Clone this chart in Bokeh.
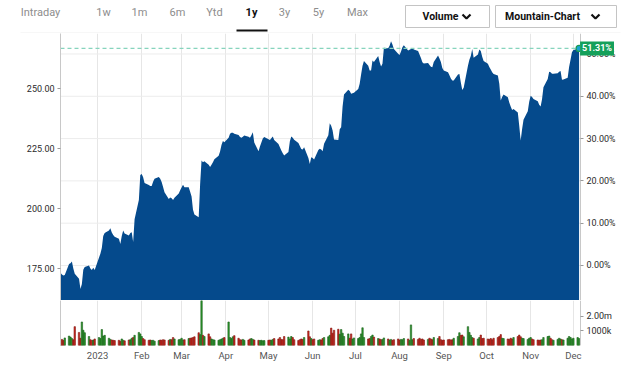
import pandas as pd
from bokeh.plotting import figure
from bokeh.layouts import column
from bokeh.models import (Range1d, LinearAxis, FixedTicker, PrintfTickFormatter,
                          Label, Grid, ColumnDataSource)
from bokeh.embed import file_html
from bokeh.resources import INLINE
from bokeh.core.properties import value

# ---------------- data ----------------
price = [
    173.2, 172.5, 172.1, 172.3, 176.9, 177.2, 177.9, 175.0, 172.8, 170.7,
    166.5, 168.5, 174.5, 175.6, 176.3, 175.0, 174.4, 175.3, 174.4, 179.5,
    181.2, 183.5, 188.5, 189.8, 190.8, 191.8, 190.0, 189.0, 188.2, 187.4,
    185.2, 188.5, 190.8, 189.6, 188.8, 189.8, 190.1, 186.0, 195.5, 203.5,
    214.0, 214.4, 213.0, 210.6, 209.8, 209.4, 209.4, 211.2, 212.4, 213.1,
    212.4, 211.0, 209.0, 206.8, 204.0, 204.6, 204.3, 203.5, 204.5, 206.3,
    207.6, 208.8, 209.9, 208.9, 208.9, 207.0, 205.0, 199.5, 197.5, 196.4,
    210.0, 220.0, 219.3, 219.7, 218.2, 217.3, 218.2, 219.3, 220.5, 222.0,
    223.8, 226.5, 228.1, 227.6, 229.5, 231.1, 231.6, 231.6, 231.1, 230.6,
    229.8, 229.5, 229.9, 230.4, 229.9, 229.5, 230.5, 231.8, 227.5, 223.9,
    225.8, 227.5, 229.2, 229.8, 228.9, 228.5, 229.3, 230.0, 228.5, 226.9,
    225.5, 224.2, 223.0, 222.1, 223.5, 228.0, 230.0, 229.5, 228.6, 227.3,
    226.0, 224.8, 224.6, 225.5, 221.0, 218.5, 221.4, 221.0, 220.4, 224.4,
    224.9, 224.6, 223.9, 227.0, 230.5, 235.5, 234.5, 232.5, 228.8, 228.5,
    233.0, 233.9, 242.5, 247.5, 249.5, 249.0, 247.8, 248.0, 248.2, 249.8,
    252.0, 255.8, 259.5, 261.5, 259.5, 257.5, 257.5, 261.7, 261.0, 263.5,
    261.0, 259.2, 260.3, 267.0, 266.8, 267.8, 269.7, 268.3, 266.5, 264.5,
    264.0, 265.4, 267.2, 268.0, 265.8, 266.2, 266.5, 266.9, 266.3, 265.6,
    264.2, 262.7, 260.9, 260.4, 260.6, 259.8, 259.1, 258.9, 261.0, 263.8,
    262.5, 261.0, 258.5, 257.5, 256.8, 255.5, 254.2, 253.3, 253.3, 255.8,
    256.0, 252.5, 249.4, 250.3, 259.5, 262.0, 263.5, 266.5, 262.8, 264.2,
    266.3, 265.6, 263.2, 261.5, 260.3, 259.0, 257.9, 256.8, 256.0, 255.4,
    252.0, 245.0, 246.5, 247.5, 246.4, 244.2, 242.5, 241.0, 241.5, 240.0,
    234.5, 228.3, 233.0, 237.0, 240.5, 244.5, 247.0, 246.5, 245.6, 244.7,
    243.2, 242.5, 245.5, 250.5, 254.0, 257.0, 256.8, 256.1, 256.2, 256.4,
    257.0, 257.3, 253.6, 253.8, 254.5, 259.0, 262.0, 265.1, 266.0, 266.5,
    266.7,
]
volume_m = [
    0.38, 0.42, 0.36, 0.52, 0.65, 0.58, 0.48, 0.40, 1.30, 0.90,
    0.50, 1.62, 1.05, 0.88, 0.62, 0.40, 0.35, 0.38, 0.45, 0.55,
    0.48, 1.10, 0.65, 0.70, 0.50, 0.42, 0.38, 0.36, 0.34, 0.36,
    0.30, 0.45, 0.36, 0.32, 0.38, 0.40, 0.50, 0.55, 0.70, 0.90,
    0.80, 0.62, 0.48, 0.40, 0.36, 0.38, 0.35, 0.36, 0.30, 0.34,
    0.38, 0.36, 0.40, 0.38, 0.36, 0.42, 0.40, 0.55, 0.45, 0.40,
    0.42, 0.50, 0.38, 0.40, 0.48, 0.50, 0.52, 0.55, 0.60, 0.88,
    0.75, 3.10, 0.70, 0.62, 0.80, 0.60, 0.45, 0.40, 0.38, 0.36,
    0.40, 0.45, 0.50, 0.55, 1.62, 0.55, 0.48, 0.60, 0.68, 0.50,
    0.40, 0.38, 0.42, 0.36, 0.38, 0.45, 0.48, 0.42, 0.38, 0.36,
    0.34, 0.36, 0.32, 0.34, 0.36, 0.38, 0.36, 0.42, 0.48, 0.45,
    0.55, 0.42, 0.40, 0.62, 0.58, 0.45, 0.62, 0.55, 0.40, 0.35,
    0.40, 0.45, 0.42, 0.55, 1.00, 0.60, 0.48, 0.40, 0.45, 0.36,
    0.40, 0.38, 0.48, 0.55, 0.60, 0.70, 1.20, 0.85, 1.05, 1.12,
    0.78, 1.10, 0.85, 0.62, 0.80, 0.50, 0.80, 0.45, 0.52, 0.48,
    0.55, 0.80, 1.22, 0.55, 0.45, 0.48, 0.62, 0.72, 0.58, 0.48,
    0.45, 0.40, 0.42, 0.52, 0.45, 0.38, 0.42, 0.36, 0.40, 0.45,
    0.38, 0.42, 0.40, 0.48, 0.45, 0.36, 1.42, 0.40, 0.48, 0.42,
    0.50, 0.42, 0.45, 0.38, 0.42, 0.50, 0.45, 0.40, 0.55, 0.48,
    0.62, 0.40, 0.36, 0.38, 0.40, 0.42, 0.38, 0.40, 0.50, 0.62,
    0.88, 0.70, 0.72, 0.60, 1.30, 0.90, 0.70, 0.55, 0.50, 0.45,
    0.55, 0.72, 0.48, 0.50, 0.45, 0.42, 0.48, 0.40, 0.50, 0.55,
    0.62, 0.75, 0.50, 0.48, 0.45, 0.42, 0.50, 0.45, 0.55, 0.62,
    0.72, 0.60, 0.50, 0.48, 0.42, 0.50, 0.55, 0.45, 0.40, 0.38,
    0.36, 0.38, 0.40, 0.55, 0.62, 0.65, 0.50, 0.40, 0.36, 0.42,
    0.50, 0.45, 0.40, 0.38, 0.50, 0.62, 0.55, 0.45, 0.50, 0.55,
    0.48,
]
start_date = "2022-12-06"
base_price = 176.26           # price at 0.00 %
price_ticks = [175, 200, 225, 250]
pct_ticks = [0, 10, 20, 30, 40, 50]
vol_ticks = [1_000_000, 2_000_000]
vol_tick_labels = ["1000k", "2.00m"]
month_starts = ["2023-01-01", "2023-02-01", "2023-03-01", "2023-04-01", "2023-05-01",
                "2023-06-01", "2023-07-01", "2023-08-01", "2023-09-01", "2023-10-01",
                "2023-11-01", "2023-12-01"]
month_labels = ["2023", "Feb", "Mar", "Apr", "May", "Jun", "Jul", "Aug", "Sep",
                "Oct", "Nov", "Dec"]
tabs = ["Intraday", "1w", "1m", "6m", "Ytd", "1y", "3y", "5y", "Max"]
active_tab = "1y"
buttons = ["Volume", "Mountain-Chart"]

# ---------------- derived ----------------
dates = pd.bdate_range(start_date, periods=len(price))
volume = [v * 1e6 for v in volume_m]
colors, lines = [], []
for i, pr in enumerate(price):
    up = i == 0 or pr >= price[i - 1]
    colors.append("#2a9a2a" if up else "#d3261c")
    lines.append("#1b5e1b" if up else "#7e1812")
src = ColumnDataSource(dict(date=dates, price=price, volume=volume,
                            color=colors, line=lines))

DAY = 86400000
W = 630
ML, MR = 60, 15
AXIS_PX = 520                       # plotting width left of the right-hand axis
FRAME_PX = W - ML - MR              # frame also hosts the right-hand labels

x0_ms = dates[0].value / 1e6
axis_ms = (dates[-1] + pd.Timedelta(days=1)).value / 1e6
end_ms = x0_ms + (axis_ms - x0_ms) * FRAME_PX / AXIS_PX
xr = Range1d(x0_ms, end_ms)
month_ms = [pd.Timestamp(m).value / 1e6 for m in month_starts]
last_ms = dates[-1].value / 1e6

FONT = "Roboto"
AX_COLOR = "#c8c8c8"
LBL_COLOR = "#2b2b2b"

y_lo, y_hi = 161.67, 272.92
last = price[-1]
pct_last = (last / base_price - 1) * 100

# ---------------- header ----------------
hdr = figure(width=W, height=33, x_range=Range1d(0, W), y_range=Range1d(33, 0),
             toolbar_location=None, output_backend="svg", min_border=0)
hdr.axis.visible = False
hdr.grid.visible = False
hdr.outline_line_color = None
tab_x = [40, 103, 139, 177, 214, 251, 284, 318, 357]
for t, tx in zip(tabs, tab_x):
    act = t == active_tab
    hdr.text(x=[tx], y=[12], text=[t], text_align="center", text_baseline="middle",
             text_font=value(FONT), text_font_size="11px",
             text_color="#111111" if act else "#8d8d8d",
             text_font_style="bold" if act else "normal")
hdr.segment(x0=[236], y0=[30], x1=[267], y1=[30], line_color="#111111", line_width=2)
hdr.segment(x0=[20], y0=[32.5], x1=[620], y1=[32.5], line_color="#eeeeee", line_width=1)
hdr.quad(left=[405, 495], right=[489, 616], top=[5, 5], bottom=[27, 27],
         fill_color="white", line_color="#c4c4c4", line_width=1)
hdr.text(x=[440, 542], y=[16, 16], text=buttons,
         text_align="center", text_baseline="middle", text_font=value(FONT),
         text_font_size="10.5px", text_font_style="bold", text_color="#111111")
hdr.multi_line(xs=[[462, 466, 470], [591, 595, 599]], ys=[[14, 18, 14], [14, 18, 14]],
               line_color="#111111", line_width=2.2)

# ---------------- price panel ----------------
p = figure(width=W, height=267, x_range=xr,
           y_range=Range1d(y_lo, y_hi), toolbar_location=None, output_backend="svg",
           x_axis_location=None, min_border_left=ML, min_border_right=MR,
           min_border_top=0, min_border_bottom=0)
p.outline_line_color = None
p.ygrid.visible = False
p.xgrid.visible = False
p.extra_y_ranges = {"pct": Range1d((y_lo / base_price - 1) * 100, (y_hi / base_price - 1) * 100)}

# horizontal grid at the percentage ticks, ending at the right-hand axis
p.segment(x0=x0_ms, x1=axis_ms, y0=pct_ticks, y1=pct_ticks, y_range_name="pct",
          line_color="#ececec", line_width=1)
p.add_layout(Grid(dimension=0, ticker=FixedTicker(ticks=month_ms),
                  grid_line_color="#e6e6e6"))

p.varea(x="date", y1=y_lo, y2="price", source=src, fill_color="#054a8c")

ya = p.yaxis[0]
ya.ticker = FixedTicker(ticks=price_ticks)
ya.formatter = PrintfTickFormatter(format="%.2f")
ra = LinearAxis(y_range_name="pct", ticker=FixedTicker(ticks=pct_ticks),
                formatter=PrintfTickFormatter(format="%.2f%%"), fixed_location=axis_ms)
p.add_layout(ra, "right")
for ax in (ya, ra):
    ax.axis_line_color = AX_COLOR
    ax.major_tick_line_color = "#9a9a9a"
    ax.major_tick_out = 3
    ax.major_tick_in = 0
    ax.minor_tick_line_color = None
    ax.major_label_text_font = FONT
    ax.major_label_text_font_size = "9px"
    ax.major_label_text_color = LBL_COLOR
    ax.major_label_standoff = 3

# last-price dashed line, badge and marker
p.line(x=[x0_ms, last_ms], y=[last, last], line_color="#86d4bd",
       line_dash="4 3", line_width=1.3)
p.add_layout(Label(x=last_ms, y=last, text=f"{pct_last:.2f}%", x_offset=1,
                   text_align="left", text_baseline="middle", text_font=FONT,
                   text_font_size="9px", text_font_style="bold", text_color="white",
                   background_fill_color="#14a05a", padding=2))
p.scatter(x=[last_ms], y=[last], size=6, fill_color="#19a3d3", line_color="#1a9a55",
          line_width=1.2)

# ---------------- volume panel ----------------
v = figure(width=W, height=63, x_range=xr,
           y_range=Range1d(0, 3.1e6), toolbar_location=None, output_backend="svg",
           min_border_left=ML, min_border_right=MR, min_border_top=0, min_border_bottom=0)
v.outline_line_color = None
v.ygrid.visible = False
v.xgrid.ticker = FixedTicker(ticks=month_ms)
v.xgrid.grid_line_color = "#e6e6e6"
v.vbar(x="date", top="volume", bottom=0, width=1.0 * DAY, source=src,
       fill_color="color", line_color="line", line_width=0.6)

xa = v.xaxis[0]
xa.ticker = FixedTicker(ticks=month_ms)
xa.major_label_overrides = {m: lab for m, lab in zip(month_ms, month_labels)}
xa.axis_line_color = None
xa.major_tick_line_color = None
xa.major_tick_out = 0
xa.major_tick_in = 0
xa.minor_tick_line_color = None
xa.minor_tick_out = 0
xa.major_label_text_font = FONT
xa.major_label_text_font_size = "9.5px"
xa.major_label_text_color = "#555555"
xa.major_label_standoff = 4

vl = v.yaxis[0]
vl.ticker = FixedTicker(ticks=[])
vl.axis_line_color = AX_COLOR
vl.major_label_text_font_size = "0px"
vl.minor_tick_line_color = None

vr = LinearAxis(ticker=FixedTicker(ticks=vol_ticks), fixed_location=axis_ms)
vr.major_label_overrides = {t: lab for t, lab in zip(vol_ticks, vol_tick_labels)}
vr.axis_line_color = AX_COLOR
vr.major_tick_line_color = "#9a9a9a"
vr.major_tick_out = 3
vr.major_tick_in = 0
vr.minor_tick_line_color = None
vr.major_label_text_font = FONT
vr.major_label_text_font_size = "9px"
vr.major_label_text_color = LBL_COLOR
vr.major_label_standoff = 3
v.add_layout(vr, "right")

layout = column(hdr, column(p, v, spacing=0), spacing=0)
open("out.html", "w").write(file_html(layout, INLINE))
